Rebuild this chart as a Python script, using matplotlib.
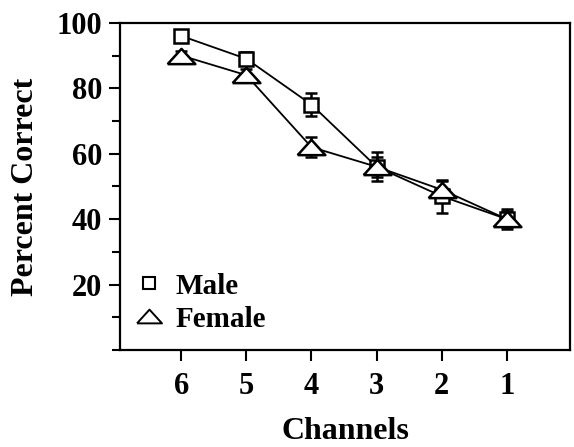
import matplotlib
matplotlib.use("Agg")
import matplotlib.pyplot as plt
from matplotlib.lines import Line2D
from matplotlib.ticker import MultipleLocator

# ---- Data ----
channels = [6, 5, 4, 3, 2, 1]
male = [96, 89, 75, 56, 47, 40]
male_err = [1.5, 2, 3.5, 4.5, 5, 3]
female = [90, 84, 62, 56, 49, 40]
female_err = [1.5, 2, 3, 3, 2.5, 2.5]

plt.rcParams['font.family'] = ['Liberation Serif', 'DejaVu Serif']
plt.rcParams['font.weight'] = 'bold'

# flat triangle as in the scan
tri = [(-1, -0.55), (1, -0.55), (0, 0.55), (-1, -0.55)]

fig = plt.figure(figsize=(5.74, 4.47), dpi=100)
ax = fig.add_axes([0.209, 0.217, 0.784, 0.732])

# ---- Series ----
ax.errorbar(channels, male, yerr=male_err, color='black', lw=1.3,
            marker='s', ms=10, mfc='white', mec='black', mew=1.8,
            capsize=4, capthick=2, elinewidth=1.8, zorder=3)
ax.errorbar(channels, female, yerr=female_err, color='black', lw=1.3,
            marker=tri, ms=20, mfc='white', mec='black', mew=1.8,
            capsize=4, capthick=2, elinewidth=1.8, zorder=3)

# ---- Axes ----
ax.set_xlim(6.94, 0.03)
ax.set_ylim(0, 100)
ax.set_xticks(channels)
ax.yaxis.set_major_locator(MultipleLocator(20))
ax.yaxis.set_minor_locator(MultipleLocator(10))
ax.set_yticks([20, 40, 60, 80, 100])
ax.tick_params(axis='both', which='both', direction='out', width=1.5,
               top=False, right=False, labelsize=22)
ax.tick_params(axis='both', which='major', length=8, pad=5)
ax.tick_params(axis='x', which='major', pad=8)
ax.tick_params(axis='y', which='minor', length=6)
ax.tick_params(axis='x', which='minor', bottom=False)
for s in ax.spines.values():
    s.set_linewidth(1.6)

ax.set_xlabel("Channels", fontsize=23, fontweight='bold', labelpad=11)
ax.set_ylabel("Percent Correct", fontsize=23, fontweight='bold', labelpad=12)

# ---- Legend ----
handles = [
    Line2D([], [], ls='none', marker='s', ms=8, mfc='white', mec='black', mew=1.5),
    Line2D([], [], ls='none', marker=tri, ms=18, mfc='white', mec='black', mew=1.4),
]
ax.legend(handles, ["Male", "Female"], loc='lower left', frameon=False,
          fontsize=21, handletextpad=0.5, borderaxespad=0.2,
          labelspacing=0.2, handlelength=0.8)

fig.savefig("out.png", dpi=100)
